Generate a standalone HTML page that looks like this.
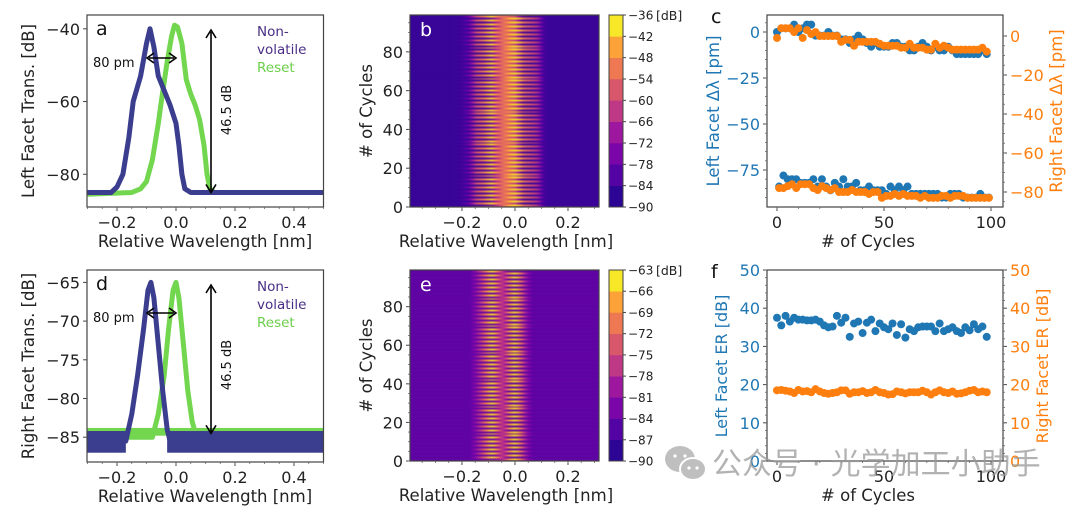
<!DOCTYPE html>
<html><head><meta charset="utf-8"><style>
html,body{margin:0;padding:0;background:#fff;width:1080px;height:511px;overflow:hidden}
#wrap{position:relative;width:1080px;height:511px}
canvas{position:absolute}
svg{position:absolute;left:0;top:0}
text{font-family:"DejaVu Sans","Liberation Sans",sans-serif}
</style></head><body>
<div id="wrap">
<canvas id="hb" width="189" height="192" style="left:410px;top:15px"></canvas>
<canvas id="he" width="189" height="191" style="left:410px;top:270px"></canvas>
<svg id="svg" width="1080" height="511" xmlns="http://www.w3.org/2000/svg"></svg>
</div>
<script>
// ---- data ----
const wlBlueA=[-0.3,-0.22,-0.2,-0.18,-0.16,-0.145,-0.12,-0.1,-0.088,-0.075,-0.06,-0.04,-0.02,0.0,0.01,0.02,0.03,0.05,0.1,0.5];
const valBlueA=[-85,-85,-83.5,-80,-70,-60,-53,-44,-40,-45,-53,-57,-61,-66,-72,-80,-84,-85,-85,-85];
const wlGreenA=[-0.3,-0.15,-0.12,-0.1,-0.08,-0.06,-0.05,-0.03,-0.015,-0.005,0.005,0.02,0.035,0.05,0.065,0.08,0.095,0.105,0.115,0.13,0.2,0.5];
const valGreenA=[-85.5,-85,-84,-82,-76,-66,-60,-49,-42,-39,-39.5,-44,-54,-58,-61,-65,-72,-80,-84,-85,-85,-85];
const wlBlueD=[-0.3,-0.17,-0.15,-0.13,-0.11,-0.095,-0.085,-0.075,-0.06,-0.045,-0.03,-0.02,0.5];
const valBlueD=[-85.5,-85.5,-82,-77,-71,-66,-65,-67,-73,-79,-84,-85.5,-85.5];
const wlGreenD=[-0.3,-0.08,-0.06,-0.04,-0.025,-0.01,0.0,0.01,0.025,0.04,0.055,0.07,0.5];
const valGreenD=[-85,-85,-82,-77,-71,-66,-65,-67,-73,-79,-83,-85,-85];
const cbTicksB=[-36,-42,-48,-54,-60,-66,-72,-78,-84,-90];
const cbTicksE=[-63,-66,-69,-72,-75,-78,-81,-84,-87,-90];
const cyclesEven=[0,2,4,6,8,10,12,14,16,18,20,22,24,26,28,30,32,34,36,38,40,42,44,46,48,50,52,54,56,58,60,62,64,66,68,70,72,74,76,78,80,82,84,86,88,90,92,94,96,98];
const cyclesOdd=[1,3,5,7,9,11,13,15,17,19,21,23,25,27,29,31,33,35,37,39,41,43,45,47,49,51,53,55,57,59,61,63,65,67,69,71,73,75,77,79,81,83,85,87,89,91,93,95,97,99];
const leftUpperC=[0,2,2,2,4,0,2,4,4,-2,-2,-2,0,-2,-2,-4,-4,-6,-4,-2,-4,-6,-8,-6,-8,-8,-8,-6,-6,-8,-8,-10,-10,-8,-6,-8,-10,-8,-10,-10,-8,-10,-12,-12,-12,-12,-12,-12,-10,-12];
const rightUpperC=[-1,4,4,4,2,4,-1,3,1,2,0,0,0,0,0,-3,-2,-2,-5,-3,-3,-3,-3,-3,-4,-5,-5,-5,-5,-6,-6,-4,-6,-6,-6,-7,-7,-4,-6,-5,-6,-7,-7,-7,-7,-7,-7,-7,-6,-8];
const leftLowerC=[-84,-78,-80,-80,-80,-82,-82,-82,-80,-84,-80,-84,-86,-82,-84,-80,-84,-84,-82,-86,-86,-84,-86,-86,-86,-88,-84,-86,-84,-86,-84,-88,-88,-88,-88,-88,-88,-88,-90,-90,-88,-88,-88,-90,-90,-90,-90,-88,-90,-90];
const rightLowerC=[-78,-78,-77,-76,-78,-76,-76,-76,-78,-79,-77,-78,-79,-78,-80,-80,-80,-79,-80,-80,-80,-81,-80,-80,-83,-82,-82,-81,-82,-81,-82,-82,-82,-83,-82,-83,-83,-83,-82,-82,-83,-82,-82,-82,-83,-83,-83,-83,-83,-83];
const leftErF=[37.5,35.5,38,36.5,37.5,37,37,36.8,36.8,37,36.5,35.5,35,35.2,38,36.2,37.5,32.5,36,36.5,33.5,36.2,37,34,36,35,34.5,36,33,35.8,32.3,34.5,34,35,35.2,35.2,35.2,34,36,34,34.5,35,34,33.5,35,34.2,35.8,34.5,35.2,32.5];
const rightErF=[18.5,18.6,18.4,18.2,17.8,18.6,18.2,18.3,18,18.8,18.2,17.8,17.6,17.8,18,18.5,18.5,17.6,18,18,18.3,17.8,18,18.6,18,17.8,17.4,17.5,18.2,18,17.7,18,18,18,18.4,18,17.4,18,18.5,18,17.8,18.2,17.6,17.7,18,18.4,18.6,18,18.2,18];

// ---- helpers ----
const NS='http://www.w3.org/2000/svg';
const svg=document.getElementById('svg');
function el(tag,attrs,parent){const e=document.createElementNS(NS,tag);for(const k in attrs)e.setAttribute(k,attrs[k]);(parent||svg).appendChild(e);return e;}
function lin(d0,d1,r0,r1){return v=>r0+(v-d0)*(r1-r0)/(d1-d0);}
function txt(x,y,s,opt){const t=el('text',Object.assign({x:x,y:y,'font-size':15,fill:'#222'},opt||{}));t.textContent=s;return t;}
function interp(xs,ys,x){if(x<=xs[0])return ys[0];for(let i=1;i<xs.length;i++){if(x<=xs[i]){const f=(x-xs[i-1])/(xs[i]-xs[i-1]);return ys[i-1]+f*(ys[i]-ys[i-1]);}}return ys[ys.length-1];}
const BLUE='#3b3d8e',GREEN='#72d64e',MB='#1f77b4',MO='#ff7f0e';
const plasma=['#2d0594','#5302a3','#7a05a8','#9d189e','#be3885','#d8576b','#ee7852','#fca238','#f6e826'];
const plasmaStops=[[13,8,135],[84,2,163],[139,10,165],[185,50,137],[219,92,104],[244,136,73],[254,188,43],[240,249,33]];
function plasmaC(t){t=Math.max(0,Math.min(1,t));const n=plasmaStops.length-1;const i=Math.min(n-1,Math.floor(t*n));const f=t*n-i;const a=plasmaStops[i],b=plasmaStops[i+1];return `rgb(${Math.round(a[0]+f*(b[0]-a[0]))},${Math.round(a[1]+f*(b[1]-a[1]))},${Math.round(a[2]+f*(b[2]-a[2]))})`;}

function frame(x0,y0,x1,y1,name){const r=el('rect',{x:x0,y:y0,width:x1-x0,height:y1-y0,fill:'none',stroke:'#444','stroke-width':1.2});}
function xTicks(vals,sx,yb,labels,name){const g=el('g',{});
 vals.forEach((v,i)=>{el('line',{x1:sx(v),x2:sx(v),y1:yb,y2:yb+4,stroke:'#444'},g);const t=txt(sx(v),yb+21,labels[i],{'text-anchor':'middle','font-size':16});g.appendChild(t);});}
function yTicks(vals,sy,xl,labels,name,side,color){const g=el('g',{});
 vals.forEach((v,i)=>{const d=side==='r'?1:-1;el('line',{x1:xl,x2:xl+4*d,y1:sy(v),y2:sy(v),stroke:'#444'},g);const t=txt(xl+7*d,sy(v)+6,labels[i],{'text-anchor':side==='r'?'start':'end','font-size':16,fill:color||'#222'});g.appendChild(t);});}
function minorY(x,y0,y1,n,side){for(let i=0;i<=n;i++){const y=y0+(y1-y0)*i/n;el('line',{x1:x,x2:x+(side==='r'?2:-2),y1:y,y2:y,stroke:'#666','stroke-width':0.8});}}
function minorX(y,x0,x1,n){for(let i=0;i<=n;i++){const x=x0+(x1-x0)*i/n;el('line',{x1:x,x2:x,y1:y,y2:y+2,stroke:'#666','stroke-width':0.8});}}
function vlabel(x,y,s,color,name,fs){const t=txt(0,0,s,{'text-anchor':'middle','font-size':fs||16.5,fill:color||'#222',transform:`translate(${x},${y}) rotate(-90)`});return t;}
function pathOf(xs,ys,sx,sy){return xs.map((x,i)=>(i?'L':'M')+sx(x).toFixed(1)+','+sy(ys[i]).toFixed(1)).join(' ');}
function arrowH(x0,x1,y){el('line',{x1:x0+2,x2:x1-2,y1:y,y2:y,stroke:'#000','stroke-width':1.6});el('path',{d:`M${x0+7},${y-5} L${x0},${y} L${x0+7},${y+5}`,fill:'none',stroke:'#000','stroke-width':1.6});el('path',{d:`M${x1-7},${y-5} L${x1},${y} L${x1-7},${y+5}`,fill:'none',stroke:'#000','stroke-width':1.6});}
function arrowV(x,y0,y1){el('line',{x1:x,x2:x,y1:y0+2,y2:y1-2,stroke:'#000','stroke-width':1.6});el('path',{d:`M${x-5},${y0+8} L${x},${y0} L${x+5},${y0+8}`,fill:'none',stroke:'#000','stroke-width':1.6});el('path',{d:`M${x-5},${y1-8} L${x},${y1} L${x+5},${y1-8}`,fill:'none',stroke:'#000','stroke-width':1.6});}

// ---- spectrum panels (a, d) ----
function spectrumPanel(top,bot,yDom,yTickVals,ylab,wb,vb,wg,vg,letter,noise,peakY){
 const sx=lin(-0.3,0.5,87.5,323.5), sy=lin(yDom[0],yDom[1],bot,top);
 const clip='c'+letter;const cp=el('clipPath',{id:clip});el('rect',{x:87,y:top,width:237,height:bot-top},cp);
 const g=el('g',{'clip-path':`url(#${clip})`});
 if(noise){const r1=el('rect',{x:87,y:sy(noise[0]),width:237,height:sy(noise[1])-sy(noise[0]),fill:GREEN},g);}
 const pg=el('path',{d:pathOf(wg,vg,sx,sy),fill:'none',stroke:GREEN,'stroke-width':5,'stroke-linejoin':'round'},g);
 
 if(noise){const r2=el('rect',{x:sx(-0.3),y:sy(noise[2]),width:sx(-0.17)-sx(-0.3),height:sy(noise[3])-sy(noise[2]),fill:BLUE},g);
  const r3=el('rect',{x:sx(-0.03),y:sy(noise[2]),width:sx(0.5)-sx(-0.03),height:sy(noise[3])-sy(noise[2]),fill:BLUE},g);
  const r4=el('rect',{x:sx(-0.17),y:sy(noise[4]),width:sx(-0.07)-sx(-0.17),height:sy(noise[5])-sy(noise[4]),fill:GREEN},g);
  
  }
 const pb=el('path',{d:pathOf(wb,vb,sx,sy),fill:'none',stroke:BLUE,'stroke-width':5,'stroke-linejoin':'round'},g);
 
 frame(87,top,323.5,bot,'plot-frame-'+letter);
 xTicks([-0.2,0,0.2,0.4],sx,bot,['−0.2','0.0','0.2','0.4'],'x-ticks-'+letter);
 minorX(bot,87.5,323.5,16);
 yTicks(yTickVals,sy,87,yTickVals.map(v=>'−'+Math.abs(v)),'y-ticks-'+letter,'l');
 vlabel(34,(top+bot)/2,ylab,'#222','y-axis-title-'+letter);
 const xl=txt(205,bot+40,'Relative Wavelength [nm]',{'text-anchor':'middle','font-size':16.5});
 const L=txt(96,top+20,letter,{'font-size':19,fill:'#111'});
 const a1=txt(93,top+52,'80 pm',{'font-size':13,fill:'#111','font-family':'Liberation Sans'});
 arrowH(147,176,top+43);
 arrowV(211,top+15,sy(peakY));
 const a2=txt(0,0,'46.5 dB',{'font-size':13,fill:'#111','font-family':'Liberation Sans','text-anchor':'middle',transform:`translate(231,${top+95}) rotate(-90)`});
 const n1=txt(257,top+21,'Non-',{'font-size':13.5,fill:'#4a2e86','font-family':'Liberation Sans'});
 txt(257,top+39,'volatile',{'font-size':13.5,fill:'#4a2e86','font-family':'Liberation Sans'});
 const n2=txt(257,top+57,'Reset',{'font-size':13.5,fill:'#6ccf4a','font-family':'Liberation Sans'});
}
spectrumPanel(15,207,[-89,-36.2],[-40,-60,-80],'Left Facet Trans. [dB]',wlBlueA,valBlueA,wlGreenA,valGreenA,'a',null,-85);
spectrumPanel(270,462,[-88.2,-63.4],[-65,-70,-75,-80,-85],'Right Facet Trans. [dB]',wlBlueD,valBlueD,wlGreenD,valGreenD,'d',[-83.8,-84.8,-84.2,-87],-84.5);
// re-draw thin green top edge of blue band (noisy overlap)
// ---- heatmaps (b, e) ----
function heatPanel(cid,top,bot,ticks,wb,vb,wg,vg,letter){
 const cv=document.getElementById(cid),ctx=cv.getContext('2d');
 const W=cv.width,H=cv.height;const sxInv=lin(0,W,-0.396,0.317);
 const sy=lin(0,99,H,0);const vmin=ticks[ticks.length-1],vmax=ticks[0];
 for(let c=0;c<100;c++){const y0=sy(c+1),y1=sy(c);const even=c%2===0;
  for(let px=0;px<W;px++){const w=sxInv(px+0.5);const v=even?interp(wb,vb,w):interp(wg,vg,w);
   ctx.fillStyle=plasmaC((v-vmin)/(vmax-vmin));ctx.fillRect(px,Math.floor(y0),1,Math.ceil(y1)-Math.floor(y0)+0.5);}}
 frame(410,top,599,bot,'plot-frame-'+letter);
 const sxw=lin(-0.396,0.317,410,599);
 xTicks([-0.2,0,0.2],sxw,bot,['−0.2','0.0','0.2'],'x-ticks-'+letter);
 minorX(bot,sxw(-0.35),sxw(0.3),13);
 const syc=lin(0,99,bot,top);
 yTicks([0,20,40,60,80],syc,410,['0','20','40','60','80'],'y-ticks-'+letter,'l');
 minorY(410,syc(0),syc(95),19,'l');
 vlabel(372,(top+bot)/2,'# of Cycles','#222','y-axis-title-'+letter);
 const xl=txt(506,bot+40,'Relative Wavelength [nm]',{'text-anchor':'middle','font-size':16.5});
 const L=txt(420,top+21,letter,{'font-size':19,fill:'#fff'});
 const cb=el('g',{});
 const h=(bot-top)/9;
 for(let i=0;i<9;i++){const r=el('rect',{x:609,y:bot-(i+1)*h,width:14,height:h+0.3,fill:plasma[i]},cb);}
 el('rect',{x:609,y:top,width:14,height:bot-top,fill:'none',stroke:'#444','stroke-width':1},cb);
 ticks.forEach((v,i)=>{const y=top+i*h;el('line',{x1:623,x2:626,y1:y,y2:y,stroke:'#444'},cb);const t=txt(628,y+4.5,'−'+Math.abs(v),{'font-size':12});cb.appendChild(t);});
 const u=txt(656,top+5,'[dB]',{'font-size':12.5});
}
heatPanel('hb',15,207,cbTicksB,wlBlueA,valBlueA,wlGreenA,valGreenA,'b');
heatPanel('he',270,461,cbTicksE,wlBlueD,valBlueD,wlGreenD,valGreenD,'e');

// ---- scatter panels (c, f) ----
const sxC=lin(0,100,777,991);
function dots(xs,ys,sy,color,name){const g=el('g',{});
 xs.forEach((x,i)=>{const c=el('circle',{cx:sxC(x),cy:sy(ys[i]),r:4,fill:color},g);});}
frame(767,15,1003,207,'plot-frame-c');
const syCL=lin(0,-75,32,170), syCR=lin(0,-80,36,192);
dots(cyclesEven,leftUpperC,syCL,MB,'left-upper-series');
dots(cyclesOdd,leftLowerC,syCL,MB,'left-lower-series');
dots(cyclesEven,rightUpperC,syCR,MO,'right-upper-series');
dots(cyclesOdd,rightLowerC,syCR,MO,'right-lower-series');
xTicks([0,50,100],sxC,207,['0','50','100'],'x-ticks-c');
minorX(207,sxC(0),sxC(100),10);
yTicks([0,-25,-50,-75],syCL,767,['0','−25','−50','−75'],'y-left-ticks-c','l',MB);
minorY(767,syCL(5),syCL(-90),19,'l');
yTicks([0,-20,-40,-60,-80],syCR,1003,['0','−20','−40','−60','−80'],'y-right-ticks-c','r',MO);
minorY(1003,syCR(0),syCR(-85),17,'r');
vlabel(719,111,'Left Facet Δλ [pm]',MB,'y-left-title-c');
vlabel(1062,111,'Right Facet Δλ [pm]',MO,'y-right-title-c');
{const t=txt(868,247,'# of Cycles',{'text-anchor':'middle','font-size':16.5});
 const L=txt(711,23,'c',{'font-size':19,fill:'#111'});}
frame(767,270,1003,461,'plot-frame-f');
const syF=lin(0,50,461,270);
dots(cyclesEven,leftErF,syF,MB,'left-er-series');
dots(cyclesEven,rightErF,syF,MO,'right-er-series');
xTicks([0,50,100],sxC,461,['0','50','100'],'x-ticks-f');
minorX(461,sxC(0),sxC(100),10);
yTicks([0,10,20,30,40,50],syF,767,['0','10','20','30','40','50'],'y-left-ticks-f','l',MB);
minorY(767,461,270,25,'l');
yTicks([0,10,20,30,40,50],syF,1003,['0','10','20','30','40','50'],'y-right-ticks-f','r',MO);
minorY(1003,461,270,25,'r');
vlabel(727,366,'Left Facet ER [dB]',MB,'y-left-title-f',16);
vlabel(1048,366,'Right Facet ER [dB]',MO,'y-right-title-f',16);
{const t=txt(868,501,'# of Cycles',{'text-anchor':'middle','font-size':16.5});
 const L=txt(711,278,'f',{'font-size':19,fill:'#111'});}

// ---- watermark ----
{const g=el('g',{opacity:0.75});
 el('ellipse',{cx:680,cy:459,rx:15,ry:13,fill:'#aaa'},g);
 el('ellipse',{cx:693,cy:469,rx:13,ry:11,fill:'#aaa',stroke:'#fff','stroke-width':2},g);
 [[675,456],[685,456],[689,468],[697,468]].forEach(p=>el('circle',{cx:p[0],cy:p[1],r:1.6,fill:'#fff'},g));
 const t=txt(712,474,'公众号 · 光学加工小助手',{'font-size':30,fill:'#999','font-family':'"Liberation Sans","Noto Sans CJK SC",sans-serif'});g.appendChild(t);}
</script>
</body></html>
